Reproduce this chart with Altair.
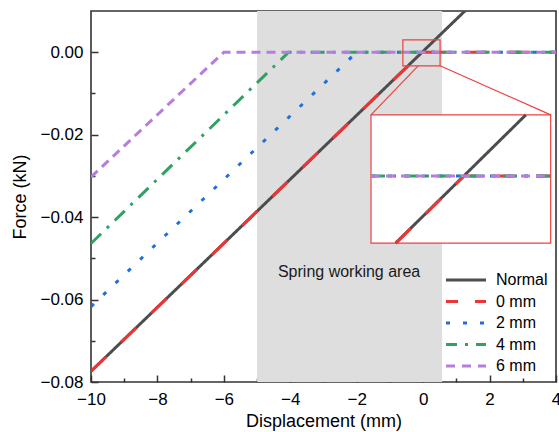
import altair as alt
import pandas as pd

# ---------------- data ----------------
series = ["Normal", "0 mm", "2 mm", "4 mm", "6 mm"]
normal_x = [-10.0, 4.0]
normal_y = [-0.0774, 0.0313]
mm0_x = [-10.0, -0.03, 4.0]
mm0_y = [-0.0774, 0.0, 0.0]
mm2_x = [-10.0, -2.0, 4.0]
mm2_y = [-0.0617, 0.0, 0.0]
mm4_x = [-10.0, -4.05, 4.0]
mm4_y = [-0.0464, 0.0, 0.0]
mm6_x = [-10.0, -6.0, 4.0]
mm6_y = [-0.0303, 0.0, 0.0]

x_domain = [-10, 4]
y_domain = [-0.08, 0.01]
x_ticks = [-10, -8, -6, -4, -2, 0, 2, 4]
x_minor = [-9, -7, -5, -3, -1, 1, 3]
y_ticks = [-0.08, -0.06, -0.04, -0.02, 0.0]
y_minor = [-0.07, -0.05, -0.03, -0.01]

spring_area = [-5.0, 0.57]
spring_label = "Spring working area"
zoom_x = [-0.61, 0.51]
zoom_y = [-0.0033, 0.003]

# ---------------- style / layout ----------------
colors = ["#4d4d4d", "#ee3535", "#1e6fdc", "#2fa262", "#b47ee0"]
dashes = [[1, 0], [21, 21], [4, 13], [14, 8, 3, 8], [9, 6]]
legend_dashes = [[1, 0], [12, 17], [4, 13], [11, 8, 3, 8], [9, 7]]
RED = "#ee4040"
FONT = "Liberation Sans"
W, H = 465, 371
PAD = {"left": 91, "top": 11, "right": 3, "bottom": 50}

# inset box placement (in main-chart data units) and connector start
inset_box_x = [-1.57, 3.84]
inset_box_y = [-0.0463, -0.0152]
connector_left_start = -0.15


def px(x):
    return (x - x_domain[0]) / (x_domain[1] - x_domain[0]) * W


def py(y):
    return (y_domain[1] - y) / (y_domain[1] - y_domain[0]) * H


rows = []
for name, xs, ys in zip(series, [normal_x, mm0_x, mm2_x, mm4_x, mm6_x],
                        [normal_y, mm0_y, mm2_y, mm4_y, mm6_y]):
    for i, (a, b) in enumerate(zip(xs, ys)):
        rows.append({"series": name, "x": a, "y": b, "idx": i})
lines_df = pd.DataFrame(rows)


def clip_segment(p, q, xmin, xmax, ymin, ymax):
    x0, y0 = p
    x1, y1 = q
    dx, dy = x1 - x0, y1 - y0
    t0, t1 = 0.0, 1.0
    for pp, qq in ((-dx, x0 - xmin), (dx, xmax - x0), (-dy, y0 - ymin), (dy, ymax - y0)):
        if pp == 0:
            if qq < 0:
                return None
        else:
            r = qq / pp
            if pp < 0:
                if r > t1:
                    return None
                t0 = max(t0, r)
            else:
                if r < t0:
                    return None
                t1 = min(t1, r)
    return (x0 + t0 * dx, y0 + t0 * dy), (x0 + t1 * dx, y0 + t1 * dy)


inset_rows = []
for name, g in lines_df.groupby("series", sort=False):
    pts = list(zip(g["x"], g["y"]))
    out = []
    for p, q in zip(pts[:-1], pts[1:]):
        seg = clip_segment(p, q, zoom_x[0], zoom_x[1], zoom_y[0], zoom_y[1])
        if seg is None:
            continue
        for pt in seg:
            if not out or (abs(out[-1][0] - pt[0]) > 1e-12 or abs(out[-1][1] - pt[1]) > 1e-12):
                out.append(pt)
    for i, (a, b) in enumerate(out):
        inset_rows.append({"series": name, "x": a, "y": b, "idx": i})
inset_df = pd.DataFrame(inset_rows)

xs_main = alt.Scale(domain=x_domain, nice=False, zero=False)
ys_main = alt.Scale(domain=y_domain, nice=False, zero=False)

axis_common = dict(grid=False, domain=False, tickColor="#333333", tickWidth=1.5,
                   labelFont=FONT, labelFontSize=17, labelColor="black", labelFlush=False,
                   titleFont=FONT, titleFontSize=18, titleColor="black",
                   titleFontWeight="normal")

x_axis = alt.Axis(values=x_ticks, format="d", tickSize=7, offset=-7, labelPadding=9,
                  title="Displacement (mm)", titlePadding=5, orient="bottom", **axis_common)
y_axis = alt.Axis(values=y_ticks, format=".2f", tickSize=7, offset=-7, labelPadding=8,
                  title="Force (kN)", titlePadding=10, orient="left", **axis_common)
x_axis_minor = alt.Axis(values=x_minor, tickSize=4, offset=-4, labels=False, title=None,
                        orient="bottom", grid=False, domain=False, tickColor="#333333", tickWidth=1.5)
y_axis_minor = alt.Axis(values=y_minor, tickSize=4, offset=-4, labels=False, title=None,
                        orient="left", grid=False, domain=False, tickColor="#333333", tickWidth=1.5)

color_scale = alt.Scale(domain=series, range=colors)
dash_scale = alt.Scale(domain=series, range=dashes)

# gray spring working area
area_df = pd.DataFrame({"x0": [spring_area[0]], "x1": [spring_area[1]],
                        "y0": [y_domain[0]], "y1": [y_domain[1]]})
area = alt.Chart(area_df).mark_rect(color="#dedede").encode(
    x=alt.X("x0:Q", scale=xs_main, axis=x_axis_minor),
    x2="x1:Q",
    y=alt.Y("y0:Q", scale=ys_main, axis=y_axis_minor),
    y2="y1:Q",
)

main_lines = alt.Chart(lines_df).mark_line(strokeWidth=3, clip=True).encode(
    x=alt.X("x:Q", scale=xs_main, axis=x_axis),
    y=alt.Y("y:Q", scale=ys_main, axis=y_axis),
    color=alt.Color("series:N", scale=color_scale, legend=None),
    strokeDash=alt.StrokeDash("series:N", scale=dash_scale, legend=None),
    order="idx:Q",
)

text_df = pd.DataFrame({"x": [-2.23], "y": [-0.0533], "t": [spring_label]})
label = alt.Chart(text_df).mark_text(font=FONT, fontSize=16, color="#1a1a1a").encode(
    x=alt.X("x:Q", scale=xs_main, axis=None),
    y=alt.Y("y:Q", scale=ys_main, axis=None),
    text="t:N",
)

zoom_df = pd.DataFrame({"x0": [zoom_x[0]], "x1": [zoom_x[1]], "y0": [zoom_y[0]], "y1": [zoom_y[1]]})
zoom_rect = alt.Chart(zoom_df).mark_rect(fillOpacity=0, stroke=RED, strokeWidth=1.2).encode(
    x=alt.X("x0:Q", scale=xs_main, axis=None), x2="x1:Q",
    y=alt.Y("y0:Q", scale=ys_main, axis=None), y2="y1:Q",
)

conn_df = pd.DataFrame({
    "x0": [connector_left_start, zoom_x[1]],
    "y0": [zoom_y[0], zoom_y[0]],
    "x1": [inset_box_x[0], inset_box_x[1]],
    "y1": [inset_box_y[1], inset_box_y[1]],
})
connectors = alt.Chart(conn_df).mark_rule(color=RED, strokeWidth=1.2).encode(
    x=alt.X("x0:Q", scale=xs_main, axis=None), x2="x1:Q",
    y=alt.Y("y0:Q", scale=ys_main, axis=None), y2="y1:Q",
)

box_df = pd.DataFrame({"x0": [inset_box_x[0]], "x1": [inset_box_x[1]],
                       "y0": [inset_box_y[0]], "y1": [inset_box_y[1]]})
inset_box = alt.Chart(box_df).mark_rect(fill="white", stroke=RED, strokeWidth=1.2).encode(
    x=alt.X("x0:Q", scale=xs_main, axis=None), x2="x1:Q",
    y=alt.Y("y0:Q", scale=ys_main, axis=None), y2="y1:Q",
)

main_layer = alt.layer(area, main_lines, label, zoom_rect, connectors, inset_box).resolve_axis(
    x="independent", y="independent")

inset_lines = alt.Chart(inset_df).mark_line(strokeWidth=3).encode(
    x=alt.X("x:Q", scale=alt.Scale(domain=zoom_x, range=[px(inset_box_x[0]), px(inset_box_x[1])],
                                   nice=False, zero=False), axis=None),
    y=alt.Y("y:Q", scale=alt.Scale(domain=zoom_y, range=[py(inset_box_y[0]), py(inset_box_y[1])],
                                   nice=False, zero=False), axis=None),
    color=alt.Color("series:N", scale=color_scale, legend=None),
    strokeDash=alt.StrokeDash("series:N", scale=dash_scale, legend=None),
    order="idx:Q",
)

# wide horizontal stroke symbol drawn with a small nominal size (keeps rows compact)
legend = alt.Legend(orient="none", legendX=367, legendY=261, title=None,
                    symbolType="M-4,0H4", symbolSize=100, symbolStrokeWidth=3, symbolOpacity=1,
                    symbolFillColor="transparent",
                    labelFont=FONT, labelFontSize=16, labelColor="black", labelOffset=22,
                    rowPadding=5.5, padding=0)
legend_layer = alt.Chart(lines_df).mark_line(opacity=0).encode(
    x=alt.X("x:Q", scale=xs_main, axis=None),
    y=alt.Y("y:Q", scale=ys_main, axis=None),
    color=alt.Color("series:N", scale=color_scale, legend=legend),
    strokeDash=alt.StrokeDash("series:N", scale=alt.Scale(domain=series, range=legend_dashes),
                              legend=legend),
)

chart = alt.layer(main_layer, inset_lines, legend_layer).resolve_scale(
    x="independent", y="independent", color="independent", strokeDash="independent"
).properties(
    width=W, height=H, padding=PAD, autosize=alt.AutoSizeParams(type="none"),
    background="white",
).configure_view(stroke="#333333", strokeWidth=1.6)

chart.save("out.html", embed_options={"renderer": "svg", "actions": False})
